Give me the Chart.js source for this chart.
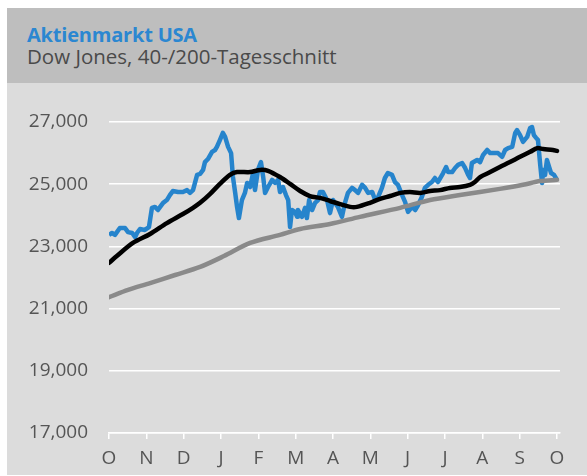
<!DOCTYPE html>
<html>
<head>
<meta charset="utf-8">
<script src="https://cdn.jsdelivr.net/npm/chart.js@4"></script>
<style>
  html, body { margin: 0; padding: 0; background: #ffffff; }
  body { width: 587px; height: 476px; position: relative; overflow: hidden; font-family: "Open Sans", sans-serif; }
  #header { position: absolute; left: 7px; top: 8px; width: 580px; height: 75px; background: #bebebe; }
  #title { position: absolute; left: 20px; top: 13px; font-size: 20px; font-weight: bold; color: #2b87d1; white-space: nowrap; letter-spacing: -0.2px; }
  #subtitle { position: absolute; left: 20px; top: 34px; font-size: 20.5px; color: #4a4a4a; white-space: nowrap; letter-spacing: 0px; }
  #plot { position: absolute; left: 7px; top: 83px; width: 580px; height: 392px; background: #dcdcdc; }
</style>
</head>
<body>
<div id="header">
  <div id="title">Aktienmarkt USA</div>
  <div id="subtitle">Dow Jones, 40-/200-Tagesschnitt</div>
</div>
<div id="plot"><canvas id="c"></canvas></div>
<script>
// Tick labels (months, Oct to Oct)
const monthLabels = ["O","N","D","J","F","M","A","M","J","J","A","S","O"];

// Dow Jones daily close (time in months from start, value in index points)
const dowT = [0,0.08,0.16,0.29,0.43,0.51,0.62,0.70,0.75,0.83,0.96,1.07,1.15,1.23,1.31,1.37,1.45,1.55,1.63,1.71,1.85,1.98,2.09,2.17,2.25,2.36,2.44,2.52,2.57,2.65,2.76,2.84,2.89,2.97,3.05,3.11,3.19,3.27,3.32,3.38,3.43,3.48,3.56,3.64,3.70,3.78,3.86,3.91,3.99,4.07,4.13,4.18,4.26,4.37,4.45,4.53,4.58,4.66,4.74,4.80,4.85,4.90,4.98,5.04,5.06,5.17,5.25,5.30,5.36,5.44,5.52,5.60,5.65,5.73,5.84,5.92,6.00,6.13,6.24,6.32,6.40,6.51,6.59,6.67,6.78,6.86,6.94,7.05,7.13,7.21,7.31,7.39,7.47,7.58,7.66,7.74,7.85,7.93,8.01,8.12,8.20,8.28,8.38,8.46,8.55,8.65,8.73,8.81,8.95,9.03,9.08,9.19,9.27,9.35,9.46,9.54,9.62,9.67,9.72,9.86,9.94,10.02,10.13,10.21,10.34,10.42,10.53,10.61,10.69,10.80,10.88,10.93,11.01,11.09,11.20,11.28,11.33,11.38,11.44,11.49,11.55,11.60,11.63,11.68,11.73,11.79,11.84,11.92,12.00];
const dowV = [23370,23430,23370,23590,23590,23460,23430,23300,23430,23560,23530,23620,24240,24270,24170,24270,24400,24490,24650,24780,24750,24750,24810,24720,24810,25300,25330,25460,25710,25810,26040,26100,26200,26420,26650,26520,26200,26000,25230,24720,24270,23910,24490,24720,25040,24910,25360,24810,25460,25710,25230,24720,24910,25140,25040,25140,24750,24910,24650,24490,23620,24170,24110,23950,24170,23950,24240,23910,24490,24170,24400,24490,24750,24750,24490,24070,24490,24270,23950,24400,24720,24880,24810,24720,24980,24880,24720,24750,24490,24590,24880,25200,25360,25300,25070,24980,24650,24430,24110,24270,24170,24330,24590,24880,24980,25070,25200,25070,25360,25550,25390,25390,25520,25620,25680,25520,25300,25200,25680,25780,25710,25940,26100,26000,26000,26000,25880,26100,26160,26200,26650,26740,26580,26360,26520,26810,26840,26580,26490,26420,25620,25040,25460,25300,25780,25550,25360,25300,25140];

// 40-day moving average
const ma40T = [0,0.21,0.64,1.10,1.55,1.98,2.25,2.44,2.71,2.97,3.24,3.43,3.78,4.05,4.26,4.58,4.85,5.12,5.38,5.65,5.92,6.19,6.46,6.64,6.99,7.26,7.53,7.80,8.06,8.33,8.60,8.87,9.13,9.40,9.67,9.80,9.94,10.21,10.47,10.74,11.01,11.28,11.47,11.63,11.89,12.00];
const ma40V = [22470,22690,23110,23400,23750,24040,24240,24400,24690,25010,25300,25390,25390,25460,25430,25230,25010,24780,24620,24560,24460,24360,24270,24270,24400,24530,24620,24720,24750,24720,24780,24810,24880,24910,24980,25070,25230,25390,25550,25710,25880,26040,26160,26130,26100,26070];

// 200-day moving average
const ma200T = [0,0.51,1.10,1.77,2.44,3.08,3.78,4.58,5.12,5.92,6.72,7.80,8.60,9.40,10.47,11.09,11.55,12.00];
const ma200V = [21370,21600,21820,22080,22340,22690,23110,23370,23560,23720,23950,24240,24490,24650,24850,24980,25100,25140];

const yTicks = [17000,19000,21000,23000,25000,27000];

function pts(t, v) { return t.map((x, i) => ({ x: x, y: v[i] })); }

const ctx = document.getElementById('c').getContext('2d');
new Chart(ctx, {
  type: 'line',
  data: {
    datasets: [
      { label: '40-Tagesschnitt', data: pts(ma40T, ma40V), borderColor: '#000000', borderWidth: 4.5, pointRadius: 0, tension: 0.3, order: 0, borderCapStyle: 'round', borderJoinStyle: 'round' },
      { label: '200-Tagesschnitt', data: pts(ma200T, ma200V), borderColor: '#8a8a8a', borderWidth: 4.5, pointRadius: 0, tension: 0.3, order: 1, borderCapStyle: 'round' },
      { label: 'Dow Jones', data: pts(dowT, dowV), borderColor: '#2684cc', borderWidth: 4.5, pointRadius: 0, tension: 0, order: 2, borderJoinStyle: 'round' }
    ]
  },
  options: {
    responsive: true,
    maintainAspectRatio: false,
    animation: false,
    events: [],
    layout: { padding: { top: 39, right: 27, left: 0, bottom: 0 } },
    plugins: { legend: { display: false }, tooltip: { enabled: false } },
    scales: {
      x: {
        type: 'linear',
        min: 0,
        max: 12.08,
        afterBuildTicks: s => { s.ticks = monthLabels.map((_, i) => ({ value: i })); },
        afterFit: s => { s.height = 42; },
        grid: { drawOnChartArea: false, drawTicks: true, tickLength: 6, color: '#ffffff', lineWidth: 1.5 },
        border: { display: true, color: '#ffffff', width: 1.5 },
        ticks: {
          autoSkip: false, maxRotation: 0, padding: 8,
          color: '#555555', font: { family: 'Open Sans', size: 19 },
          callback: v => monthLabels[Math.round(v)] ?? ''
        }
      },
      y: {
        min: 17000,
        max: 27000,
        afterBuildTicks: s => { s.ticks = yTicks.map(v => ({ value: v })); },
        afterFit: s => { s.width = 102; },
        grid: { color: '#ffffff', lineWidth: 1.5, drawTicks: false },
        border: { display: false },
        ticks: {
          padding: 21,
          color: '#555555', font: { family: 'Open Sans', size: 19 },
          callback: v => v.toLocaleString('en-US')
        }
      }
    }
  }
});
</script>
</body>
</html>
